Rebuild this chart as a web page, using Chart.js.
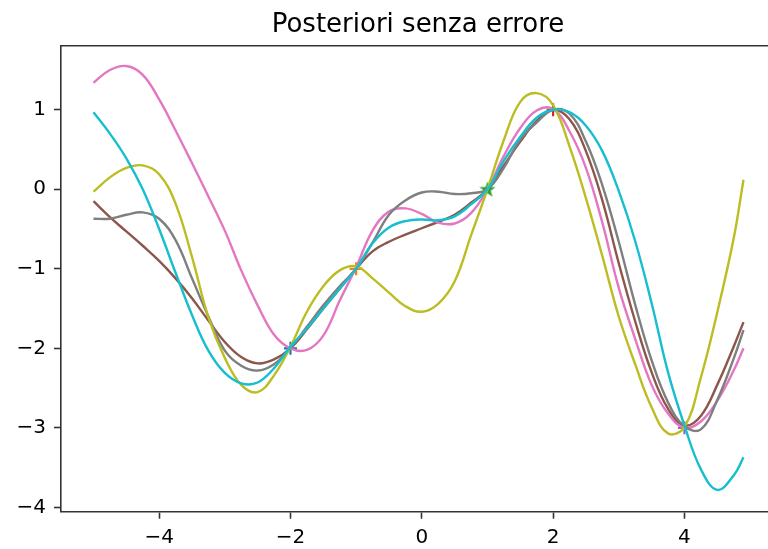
<!DOCTYPE html>
<html>
<head>
<meta charset="utf-8">
<script src="https://cdn.jsdelivr.net/npm/chart.js@4/dist/chart.umd.min.js"></script>
<style>
  html, body { margin: 0; padding: 0; background: #fff; overflow: hidden; width: 768px; height: 549px; }
  #wrap { position: absolute; left: 0; top: 0; width: 836px; height: 549px; }
</style>
</head>
<body>
<div id="wrap"><canvas id="c" width="836" height="549"></canvas></div>
<script>
// ---- data ----
const titleText = 'Posteriori senza errore';
const xValues = [-5,-4.75,-4.5,-4.25,-4,-3.75,-3.5,-3.25,-3,-2.75,-2.5,-2.25,-2,-1.75,-1.5,-1.25,-1,-0.75,-0.5,-0.25,0,0.25,0.5,0.75,1,1.25,1.5,1.75,2,2.25,2.5,2.75,3,3.25,3.5,3.75,4,4.25,4.5,4.75,4.9];
const brownSample = [-0.15,-0.35,-0.53,-0.71,-0.90,-1.12,-1.37,-1.65,-1.92,-2.11,-2.19,-2.14,-2.00,-1.76,-1.50,-1.25,-1.00,-0.78,-0.66,-0.57,-0.49,-0.41,-0.32,-0.17,0.00,0.30,0.60,0.86,1.00,0.88,0.48,-0.14,-0.93,-1.66,-2.30,-2.76,-2.97,-2.85,-2.46,-1.98,-1.67];
const pinkSample  = [1.34,1.50,1.55,1.44,1.13,0.74,0.33,-0.09,-0.52,-1.02,-1.46,-1.83,-2.00,-2.02,-1.84,-1.40,-0.98,-0.52,-0.28,-0.24,-0.31,-0.42,-0.43,-0.30,0.00,0.42,0.77,0.99,1.01,0.73,0.27,-0.42,-1.24,-1.88,-2.46,-2.82,-3.00,-2.92,-2.66,-2.28,-2.00];
const greySample  = [-0.37,-0.37,-0.32,-0.29,-0.37,-0.64,-1.12,-1.60,-2.03,-2.22,-2.28,-2.20,-2.00,-1.73,-1.46,-1.22,-1.00,-0.67,-0.32,-0.14,-0.04,-0.03,-0.06,-0.05,0.00,0.27,0.63,0.84,1.00,0.95,0.60,0.05,-0.66,-1.45,-2.15,-2.68,-2.98,-3.02,-2.65,-2.13,-1.77];
const oliveSample = [-0.03,0.15,0.27,0.30,0.19,-0.18,-0.85,-1.61,-2.12,-2.46,-2.55,-2.34,-1.98,-1.54,-1.22,-1.02,-0.97,-1.12,-1.30,-1.47,-1.54,-1.44,-1.16,-0.58,0.00,0.62,1.10,1.21,1.06,0.54,-0.11,-0.84,-1.60,-2.20,-2.74,-3.07,-2.99,-2.37,-1.55,-0.62,0.12];
const cyanSample  = [0.97,0.70,0.39,0.00,-0.50,-1.05,-1.58,-2.03,-2.31,-2.44,-2.43,-2.25,-1.98,-1.75,-1.50,-1.25,-1.00,-0.68,-0.48,-0.40,-0.38,-0.39,-0.34,-0.19,0.00,0.36,0.66,0.90,1.00,0.97,0.80,0.48,-0.02,-0.65,-1.43,-2.30,-2.97,-3.52,-3.78,-3.60,-3.37];
const obsX = [-2, -1, 1, 2, 4];
const obsY = [-2, -1, 0, 1, -3];
const xTickValues = [-4, -2, 0, 2, 4];
const yTickValues = [-4, -3, -2, -1, 0, 1];

// ---- styles ----
const FONT = 'DejaVu Sans';
const AXIS = '#333';
const obsColors = ['#1f77b4', '#ff7f0e', '#2ca02c', '#d62728', '#9467bd'];

function starCanvas(color) {
  const c = document.createElement('canvas');
  c.width = 18; c.height = 18;
  const g = c.getContext('2d');
  g.fillStyle = color;
  g.beginPath();
  for (let i = 0; i < 10; i++) {
    const r = i % 2 === 0 ? 8.5 : 3.4;
    const a = -Math.PI / 2 + i * Math.PI / 5;
    const px = 9 + r * Math.cos(a), py = 9.5 + r * Math.sin(a);
    if (i === 0) g.moveTo(px, py); else g.lineTo(px, py);
  }
  g.closePath();
  g.fill();
  return c;
}
const obsStyles = ['cross', 'cross', starCanvas('#2ca02c'), 'cross', 'cross'];

function pairs(ys) { return xValues.map((x, i) => ({ x: x, y: ys[i] })); }
function lineDs(ys, color) {
  return { data: pairs(ys), borderColor: color, backgroundColor: color, borderWidth: 2.4,
           pointRadius: 0, tension: 0.4, fill: false };
}
function minusFmt(v) { return v < 0 ? '\u2212' + Math.abs(v) : String(v); }

const chart = new Chart(document.getElementById('c'), {
  type: 'line',
  data: {
    datasets: [
      lineDs(cyanSample, '#17becf'),
      lineDs(oliveSample, '#bcbd22'),
      lineDs(greySample, '#7f7f7f'),
      lineDs(pinkSample, '#e377c2'),
      lineDs(brownSample, '#8c564b'),
      { data: obsX.map((x, i) => ({ x: x, y: obsY[i] })), showLine: false,
        pointStyle: obsStyles, pointRadius: 6.5, pointBorderWidth: 2.2,
        pointBorderColor: obsColors, pointBackgroundColor: obsColors }
    ]
  },
  options: {
    responsive: false,
    animation: false,
    devicePixelRatio: 1,
    layout: { padding: 0 },
    plugins: {
      legend: { display: false },
      tooltip: { enabled: false },
      title: { display: true, text: titleText, color: '#000',
               font: { family: FONT, size: 26, weight: 'normal', lineHeight: 1.2 },
               padding: { top: 9.5, bottom: 5.0 } }
    },
    scales: {
      x: {
        type: 'linear', position: 'bottom', min: -5.495, max: 5.395,
        afterFit: s => { s.height = 37.3; },
        afterBuildTicks: s => { s.ticks = xTickValues.map(v => ({ value: v })); },
        ticks: { color: '#000', font: { family: FONT, size: 20 }, padding: 7, maxRotation: 0,
                 callback: v => minusFmt(v) },
        grid: { drawOnChartArea: false, drawTicks: true, tickLength: 7, tickWidth: 1.6, tickColor: AXIS },
        border: { display: true, color: AXIS, width: 1.6 }
      },
      xTop: {
        type: 'linear', position: 'top', min: 0, max: 1,
        afterFit: s => { s.height = 0; },
        ticks: { display: false },
        grid: { display: false, drawOnChartArea: false, drawTicks: false },
        border: { display: true, color: AXIS, width: 1.6 }
      },
      y: {
        type: 'linear', position: 'left', min: -4.055, max: 1.806,
        afterFit: s => { s.width = 61; },
        afterBuildTicks: s => { s.ticks = yTickValues.map(v => ({ value: v })); },
        ticks: { color: '#000', font: { family: FONT, size: 20 }, padding: 8,
                 callback: v => minusFmt(v) },
        grid: { drawOnChartArea: false, drawTicks: true, tickLength: 7, tickWidth: 1.6, tickColor: AXIS },
        border: { display: true, color: AXIS, width: 1.6 }
      },
      yRight: {
        type: 'linear', position: 'right', min: 0, max: 1,
        afterFit: s => { s.width = 60; },
        ticks: { display: false },
        grid: { display: false, drawOnChartArea: false, drawTicks: false },
        border: { display: true, color: AXIS, width: 1.6 }
      }
    }
  }
});
</script>
</body>
</html>
